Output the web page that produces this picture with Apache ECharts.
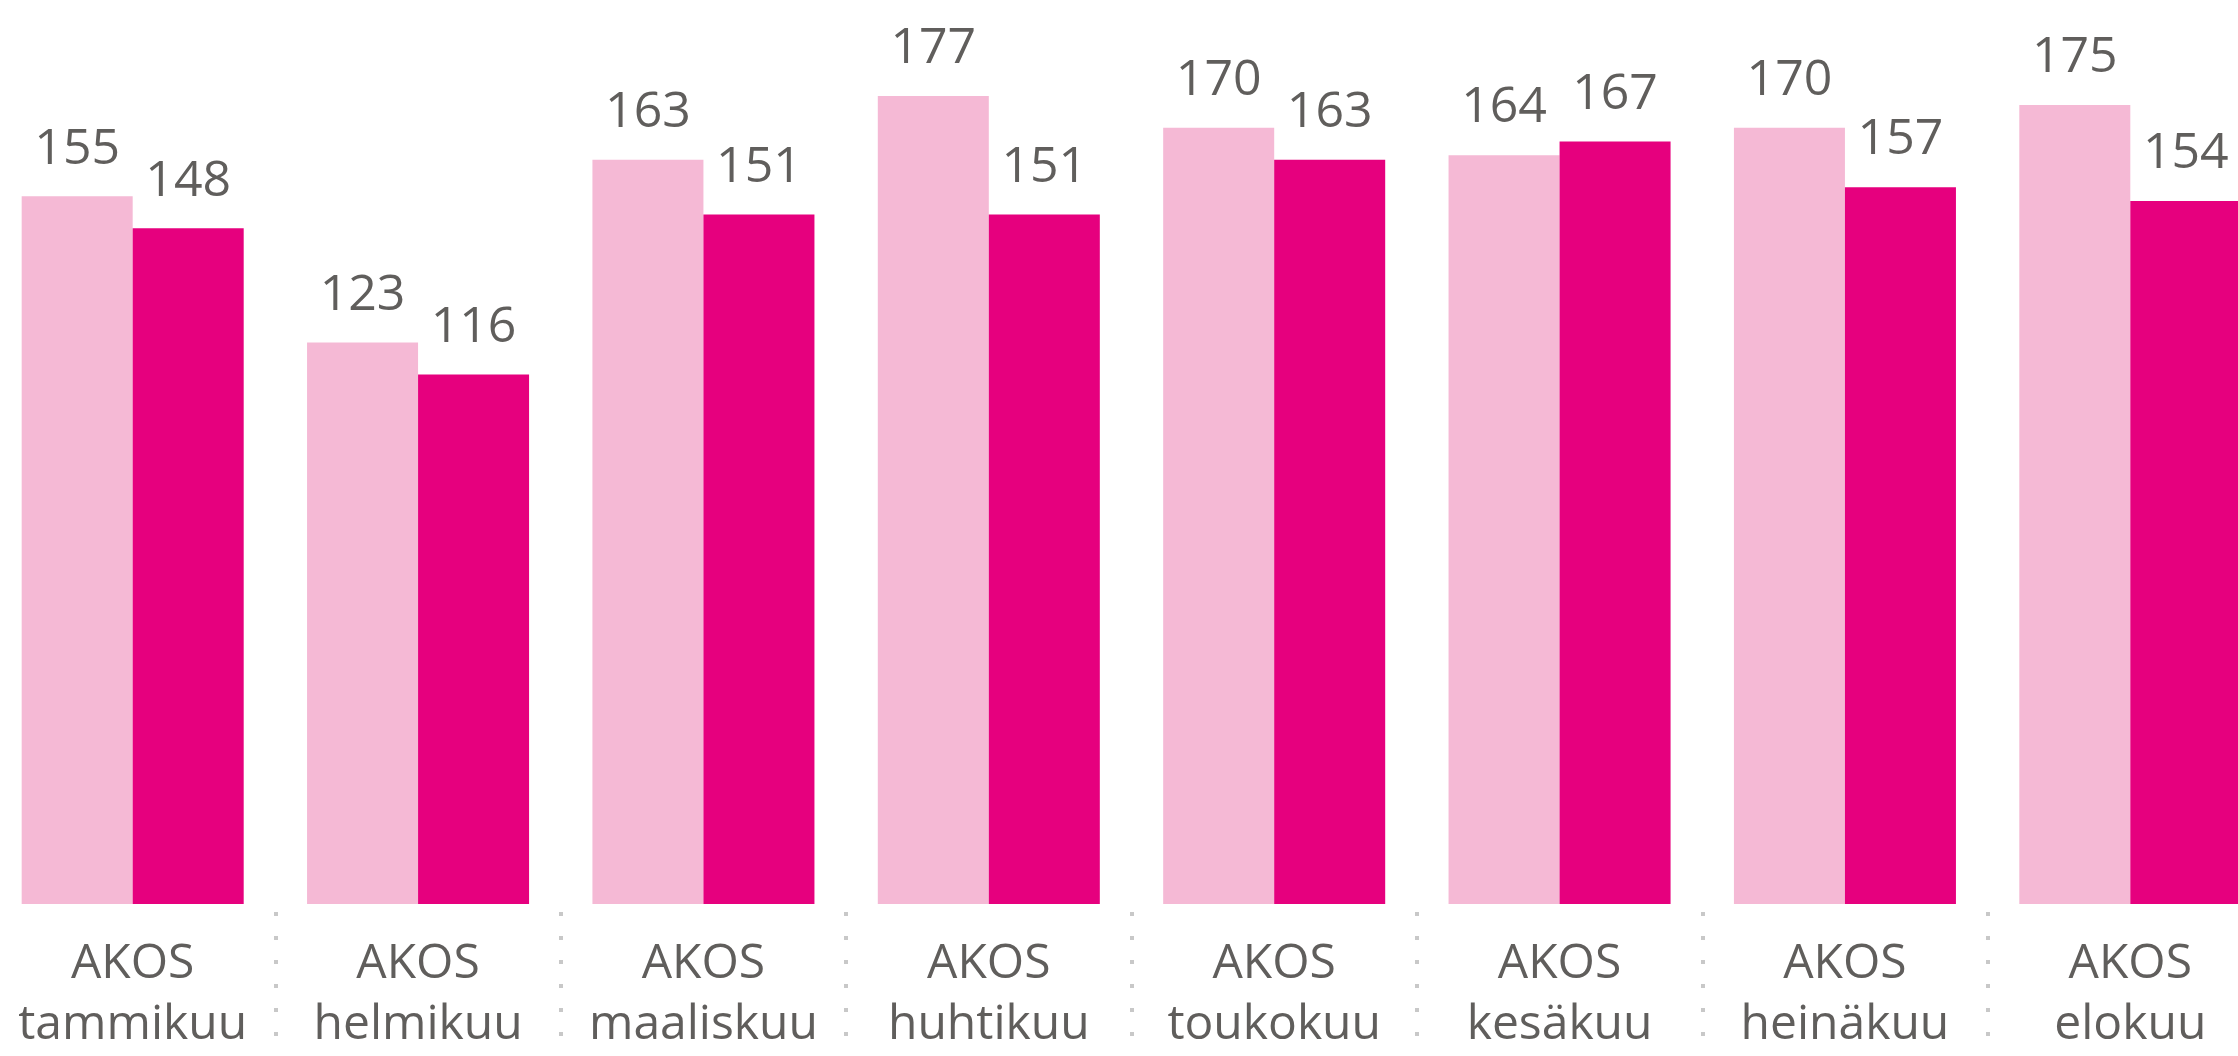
<!DOCTYPE html>
<html>
<head>
<meta charset="utf-8">
<script src="https://cdn.jsdelivr.net/npm/echarts@6/dist/echarts.min.js"></script>
<style>
  html, body { margin: 0; padding: 0; background: #ffffff; overflow: hidden; }
  #wrap { position: relative; width: 2238px; height: 1056px; overflow: hidden; }
  /* the category bands run a little past both edges of the picture */
  #chart { position: absolute; left: -10px; top: 0; width: 2283px; height: 1056px; }
</style>
</head>
<body>
<div id="wrap"><div id="chart"></div></div>
<script>
// kategoriat (kuukaudet)
var categories = ['AKOS\ntammikuu', 'AKOS\nhelmikuu', 'AKOS\nmaaliskuu', 'AKOS\nhuhtikuu',
                  'AKOS\ntoukokuu', 'AKOS\nkesäkuu', 'AKOS\nheinäkuu', 'AKOS\nelokuu'];
var lightValues = [155, 123, 163, 177, 170, 164, 170, 175];
var darkValues = [148, 116, 151, 151, 163, 167, 157, 154];

var textColor = '#605E5C';
var fontFamily = '"Segoe UI", "Open Sans", sans-serif';

var chart = echarts.init(document.getElementById('chart'));

var label = {
  show: true,
  position: 'top',
  distance: 22,
  color: textColor,
  fontSize: 50,
  fontFamily: fontFamily
};

var options = {
  animation: false,
  grid: { left: 0, right: 0, top: 0, bottom: 140, containLabel: false },
  xAxis: {
    type: 'category',
    data: categories,
    axisLine: { show: false },
    axisTick: {
      show: true,
      length: 140,
      // pisteviiva kategorioiden välissä
      lineStyle: { color: '#c8c8c8', width: 4, type: [4, 20], dashOffset: 16 }
    },
    axisLabel: {
      color: textColor,
      fontSize: 48,
      fontFamily: fontFamily,
      lineHeight: 61,
      margin: 30,
      interval: 0
    }
  },
  yAxis: {
    type: 'value',
    min: 0,
    max: 198,
    show: false,
    splitLine: { show: false }
  },
  series: [
    {
      type: 'bar',
      data: lightValues,
      barGap: '0%',
      barCategoryGap: '22.2%',
      itemStyle: { color: '#F5B9D5' },
      label: label
    },
    {
      type: 'bar',
      data: darkValues,
      itemStyle: { color: '#E6007E' },
      label: label
    }
  ]
};

chart.setOption(options);
</script>
</body>
</html>
